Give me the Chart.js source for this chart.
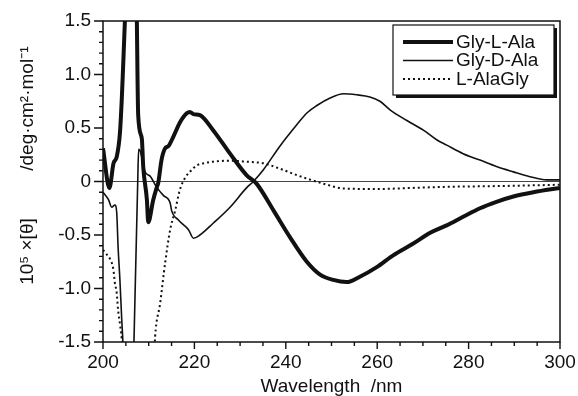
<!DOCTYPE html>
<html><head><meta charset="utf-8">
<script src="https://cdn.jsdelivr.net/npm/chart.js@4/dist/chart.umd.min.js"></script>
<style>html,body{margin:0;padding:0;background:#fff}</style>
</head><body>
<canvas id="c" width="578" height="396"></canvas>
<script>
// ---- data ----
const seriesLabels = ["Gly-L-Ala", "Gly-D-Ala", "L-AlaGly"];

const glyLAla_x = [200, 201.4, 202.3, 203.0, 203.7, 204.1, 204.4, 205.1, 206.2, 207.3, 207.7, 208.5, 208.8, 209.6, 209.9, 211.0, 211.8, 212.1, 212.8, 213.6, 214.3, 215.4, 216.8, 218.4, 219.0, 219.8, 221.2, 224.1, 227.8, 231.4, 233.6, 237.3, 240.9, 244.6, 247.5, 250.4, 253.3, 256.2, 259.9, 263.5, 267.9, 271.6, 275.2, 278.8, 282.5, 286.1, 289.8, 294.2, 300];
const glyLAla_y = [0.31, -0.06, 0.17, 0.23, 0.45, 0.76, 1.07, 1.8, 2.4, 1.8, 0.62, 0.40, 0.14, -0.17, -0.38, -0.17, -0.05, -0.01, 0.20, 0.31, 0.33, 0.42, 0.55, 0.64, 0.65, 0.63, 0.62, 0.48, 0.26, 0.06, -0.02, -0.27, -0.52, -0.75, -0.87, -0.92, -0.94, -0.89, -0.80, -0.69, -0.58, -0.48, -0.41, -0.33, -0.25, -0.19, -0.14, -0.10, -0.06];

const glyDAla_x = [200, 201.2, 201.9, 202.6, 203.0, 203.3, 203.7, 204.1, 204.3, 204.6, 206.6, 206.8, 207.6, 207.8, 208.1, 209.2, 210.3, 211.7, 213.2, 214.7, 215.0, 216.5, 218.7, 219.8, 221.2, 224.1, 227.8, 231.4, 232.9, 235.1, 238.7, 242.4, 244.6, 246.8, 249.7, 252.6, 255.5, 258.4, 260.6, 262.8, 266.5, 270.1, 273.0, 275.2, 278.8, 282.5, 286.1, 289.8, 293.4, 297.1, 300];
const glyDAla_y = [-0.10, -0.17, -0.24, -0.22, -0.29, -0.61, -0.92, -1.29, -1.45, -1.8, -1.8, -1.45, 0.0, 0.30, 0.29, 0.09, 0.05, -0.05, -0.13, -0.20, -0.27, -0.36, -0.45, -0.53, -0.50, -0.39, -0.24, -0.06, 0.0, 0.11, 0.33, 0.53, 0.64, 0.71, 0.78, 0.82, 0.81, 0.79, 0.75, 0.67, 0.57, 0.48, 0.39, 0.34, 0.26, 0.20, 0.14, 0.09, 0.045, 0.015, 0.015];

const lAlaGly_x = [200, 200.8, 201.5, 202.3, 202.6, 203.0, 203.3, 203.7, 204.1, 204.5, 211.0, 211.4, 212.5, 213.6, 214.7, 215.8, 216.8, 217.9, 219.0, 220.5, 222.0, 224.1, 227.8, 231.4, 235.1, 238.7, 242.4, 245.5, 249.0, 252.6, 260.0, 267.8, 275.0, 282.5, 290.0, 300];
const lAlaGly_y = [-0.64, -0.68, -0.72, -0.83, -0.95, -1.04, -1.20, -1.33, -1.47, -1.8, -1.8, -1.45, -1.14, -0.76, -0.45, -0.27, -0.08, 0.03, 0.09, 0.15, 0.17, 0.185, 0.195, 0.185, 0.17, 0.12, 0.06, 0.015, -0.03, -0.065, -0.07, -0.06, -0.05, -0.045, -0.04, -0.03];

const xMajorTicks = [200, 220, 240, 260, 280, 300];
const yMajorTicks = [-1.5, -1.0, -0.5, 0, 0.5, 1.0, 1.5];
const xTitle = "Wavelength  /nm";
const yTitle = "      10\u2075 \u00d7[\u03b8]         /deg\u00b7cm\u00b2\u00b7mol\u207b\u00b9";

function pts(xs, ys) { return xs.map((x, i) => ({x: x, y: ys[i]})); }
const near = (a, b) => Math.abs(a - b) < 1e-6;
const isXMajor = v => xMajorTicks.some(t => near(t, v));
const isYMajor = v => yMajorTicks.some(t => near(t, v));

const FONT = "'Liberation Sans', Arial, Helvetica, sans-serif";
const INK = '#111';

const framePlugin = {
  id: 'frameTicks',
  afterDraw(chart) {
    const ctx = chart.ctx, a = chart.chartArea;
    const xs = chart.scales.x, ys = chart.scales.y;
    ctx.save();
    ctx.strokeStyle = INK;
    ctx.lineWidth = 1.5;
    ctx.strokeRect(a.left, a.top, a.right - a.left, a.bottom - a.top);
    ctx.lineWidth = 1.4;
    ctx.beginPath();
    xs.ticks.forEach(t => {
      const px = xs.getPixelForValue(t.value);
      const len = isXMajor(t.value) ? 7 : 4;
      ctx.moveTo(px, a.bottom); ctx.lineTo(px, a.bottom + len);
    });
    ys.ticks.forEach(t => {
      const py = ys.getPixelForValue(t.value);
      const len = isYMajor(t.value) ? 9 : 4;
      ctx.moveTo(a.left - len, py); ctx.lineTo(a.left, py);
    });
    ctx.stroke();

    // legend box inside the plot
    const bx = 393, by = 25, bw = 161, bh = 70;
    ctx.fillStyle = INK;
    ctx.fillRect(bx + 3, by + 3, bw, bh);
    ctx.fillStyle = '#fff';
    ctx.fillRect(bx, by, bw, bh);
    ctx.lineWidth = 1.2;
    ctx.strokeRect(bx, by, bw, bh);
    const rows = [42, 60.5, 79];
    chart.data.datasets.forEach((ds, i) => {
      ctx.save();
      ctx.strokeStyle = ds.borderColor;
      ctx.lineWidth = ds.borderWidth;
      ctx.setLineDash(ds.borderDash || []);
      ctx.beginPath();
      ctx.moveTo(403, rows[i]); ctx.lineTo(453, rows[i]);
      ctx.stroke();
      ctx.restore();
      ctx.fillStyle = INK;
      ctx.font = "19px " + FONT;
      ctx.textBaseline = 'middle';
      ctx.textAlign = 'left';
      ctx.fillText(ds.label, 456, rows[i] + 0.5);
    });
    ctx.restore();
  }
};

new Chart(document.getElementById('c'), {
  type: 'line',
  data: {
    datasets: [
      {label: seriesLabels[0], data: pts(glyLAla_x, glyLAla_y), borderColor: INK, borderWidth: 4, pointRadius: 0, cubicInterpolationMode: 'monotone'},
      {label: seriesLabels[1], data: pts(glyDAla_x, glyDAla_y), borderColor: INK, borderWidth: 1.6, pointRadius: 0, cubicInterpolationMode: 'monotone'},
      {label: seriesLabels[2], data: pts(lAlaGly_x, lAlaGly_y), borderColor: INK, borderWidth: 2, borderDash: [2, 3], pointRadius: 0, cubicInterpolationMode: 'monotone'}
    ]
  },
  options: {
    responsive: false,
    animation: false,
    devicePixelRatio: 1,
    layout: {padding: {left: 0, right: 18, top: 21, bottom: 0}},
    plugins: {legend: {display: false}, tooltip: {enabled: false}},
    scales: {
      x: {
        type: 'linear', min: 200, max: 300,
        afterFit: s => { s.height = 54; s.paddingRight = 0; s.paddingLeft = 0; },
        border: {display: false},
        grid: {drawOnChartArea: false, drawTicks: false},
        ticks: {
          stepSize: 5, autoSkip: false, maxRotation: 0, padding: 9, color: INK,
          font: {size: 19, family: FONT},
          callback: v => isXMajor(v) ? String(Math.round(v)) : ''
        },
        title: {display: true, text: xTitle, color: INK, font: {size: 19, family: FONT, lineHeight: 1.0}, padding: 0}
      },
      y: {
        type: 'linear', min: -1.5, max: 1.5,
        afterFit: s => { s.width = 103; s.paddingTop = 0; s.paddingBottom = 0; },
        border: {display: false},
        grid: {
          drawOnChartArea: true, drawTicks: false,
          color: c => (c.tick && Math.abs(c.tick.value) < 1e-9) ? '#444' : 'rgba(0,0,0,0)',
          lineWidth: 1
        },
        ticks: {
          stepSize: 0.1, autoSkip: false, padding: 12, color: INK,
          font: {size: 19, family: FONT},
          callback: v => isYMajor(v) ? (Math.abs(v) < 1e-9 ? '0' : v.toFixed(1)) : ''
        },
        title: {display: true, text: yTitle, color: INK, font: {size: 19, family: FONT}, padding: {top: 16, bottom: 0}}
      }
    }
  },
  plugins: [framePlugin]
});
</script>
</body></html>
